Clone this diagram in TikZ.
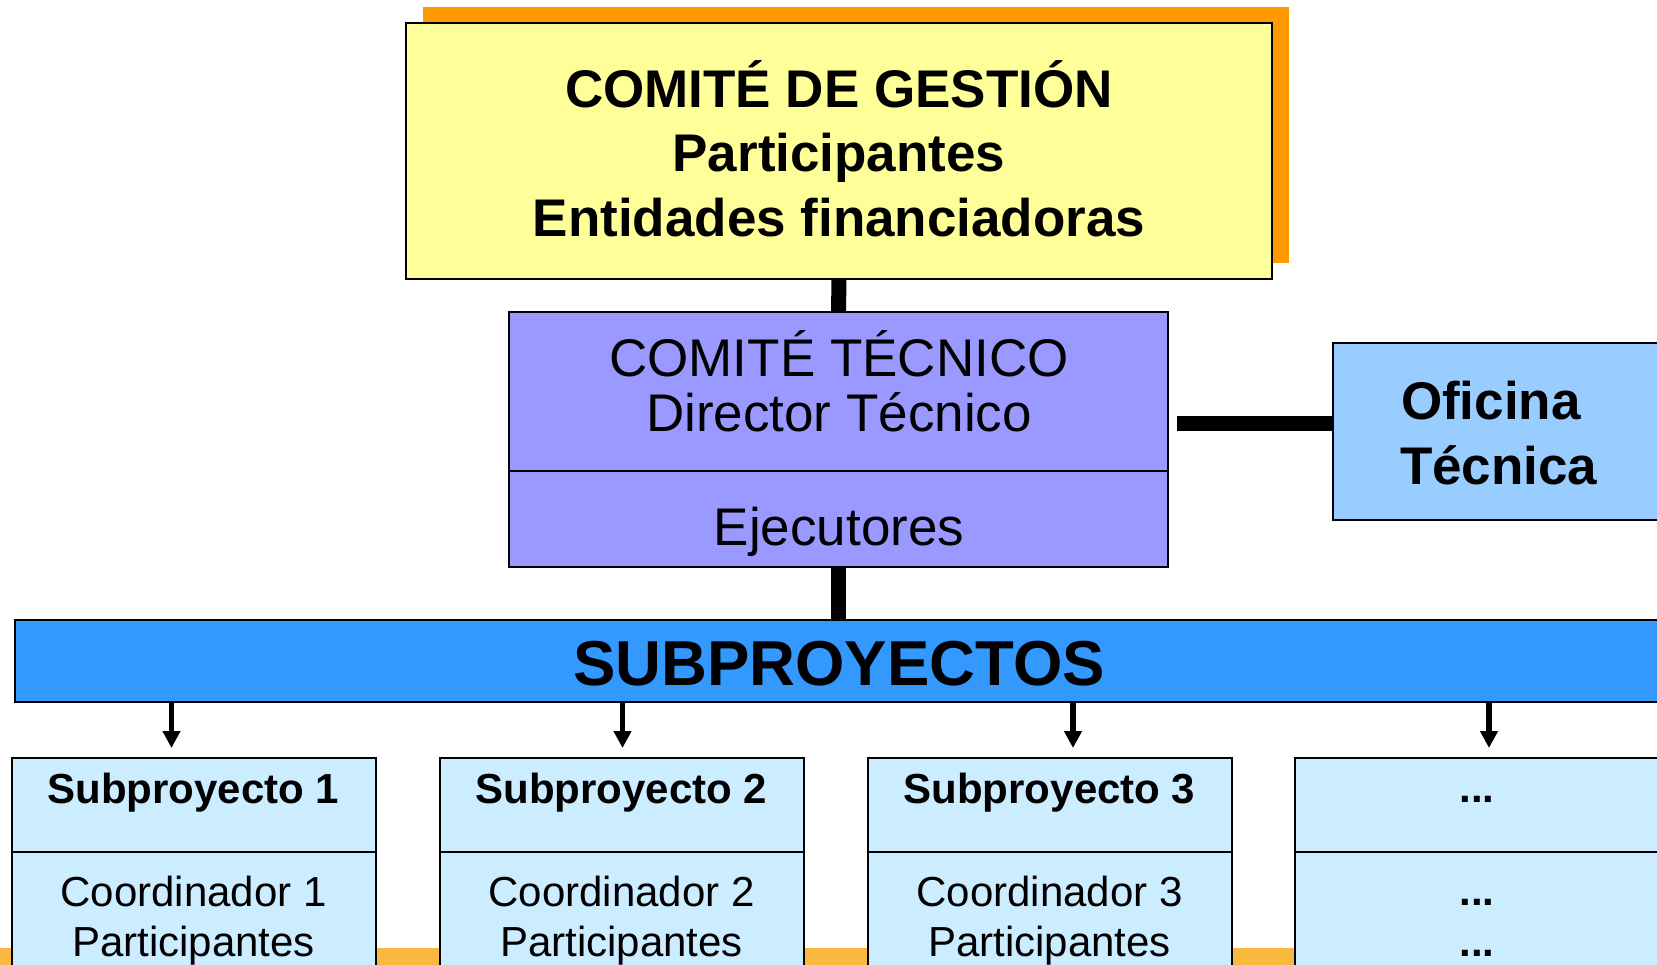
\documentclass[tikz,border=0pt]{standalone}
\usepackage{fontspec}
\setmainfont{Liberation Sans}
\usetikzlibrary{arrows.meta}
\definecolor{shadoworange}{HTML}{FF9900}
\definecolor{yellowfill}{HTML}{FFFF99}
\definecolor{purplefill}{HTML}{9999FF}
\definecolor{oficinafill}{HTML}{99CCFF}
\definecolor{barfill}{HTML}{3399FF}
\definecolor{subfill}{HTML}{CCECFF}
\definecolor{bandorange}{HTML}{F9B83F}
\begin{document}
\begin{tikzpicture}[x=1pt,y=-1pt,
  box/.style={draw=black, line width=2pt, inner sep=0pt, outer sep=0pt},
  link/.style={line width=15pt},
  arr/.style={line width=5.5pt, -{Triangle[width=17pt,length=17pt]}},
  txt/.style={anchor=base, inner sep=0pt, outer sep=0pt},
  bigb/.style={font=\bfseries\fontsize{53}{60}\selectfont},
  bigr/.style={font=\fontsize{53}{60}\selectfont},
  midb/.style={font=\bfseries\fontsize{42}{50}\selectfont},
  midr/.style={font=\fontsize{42}{50}\selectfont}]
\clip (0,0) rectangle (1657,965);
\fill[white] (0,0) rectangle (1657,965);
\fill[bandorange] (0,948) rectangle (1657,965);

% Comite de gestion
\node[fill=shadoworange, inner sep=0pt, outer sep=0pt, minimum width=866, minimum height=256] (shadow) at (856,135) {};
\node[box, fill=yellowfill, minimum width=866, minimum height=256] (gestion) at (839,151) {};
\node[txt, bigb] (g1) at (839,108) {COMITÉ DE GESTIÓN};
\node[txt, bigb] (g2) at (839,172) {Participantes};
\node[txt, bigb] (g3) at (839,237) {Entidades financiadoras};

% Comite tecnico
\node[box, fill=purplefill, minimum width=659, minimum height=159] (tecnico) at (838.5,391.5) {};
\node[box, fill=purplefill, minimum width=659, minimum height=96] (ejec) at (838.5,519) {};
\node[txt, bigr] (t1) at (839,377) {COMITÉ TÉCNICO};
\node[txt, bigr] (t2) at (839,431) {Director Técnico};
\node[txt, bigr] (t3) at (839,545) {Ejecutores};

% Oficina tecnica
\node[box, fill=oficinafill, minimum width=327, minimum height=177] (oficina) at (1496.5,431.5) {};
\node[txt, bigb, anchor=base west] (o1) at (1401,420) {Oficina};
\node[txt, bigb, anchor=base west] (o2) at (1400,484) {Técnica};

% Subproyectos bar
\node[box, fill=barfill, minimum width=1648, minimum height=81.5] (bar) at (839,661) {};
\node[txt, font=\bfseries\fontsize{63.5}{70}\selectfont] (barlabel) at (839,685) {SUBPROYECTOS};

% Connectors
\draw[link] (gestion.south) -- (tecnico.north);
\draw[link] (ejec.south) -- (ejec.south |- bar.north);
\coordinate (hstart) at (1177,423.5);
\draw[link] (hstart) -- (hstart -| oficina.west);

% Subproject boxes
\foreach \n/\cx in {1/193.5, 2/621.5, 3/1049.5}{
  \node[box, fill=subfill, minimum width=364, minimum height=94] (sa\n) at (\cx,805) {};
  \node[box, fill=subfill, minimum width=364, minimum height=148] (sb\n) at (\cx,926) {};
  \node[txt, midb] (sat\n) at (\cx,803) {Subproyecto \n};
  \node[txt, midr] (sbt\n) at (\cx,906) {Coordinador \n};
  \node[txt, midr] (sbu\n) at (\cx,956) {Participantes};
}
\node[box, fill=subfill, minimum width=364, minimum height=94] (sa4) at (1477,805) {};
\node[box, fill=subfill, minimum width=364, minimum height=148] (sb4) at (1477,926) {};
\node[txt, midb] (sat4) at (1477,802) {...};
\node[txt, midb] (sbt4) at (1477,905) {...};
\node[txt, midb] (sbu4) at (1477,956) {...};

% Arrows
\coordinate (a1) at (171.5,748);
\coordinate (a2) at (622.5,748);
\coordinate (a3) at (1073,748);
\coordinate (a4) at (1489,748);
\foreach \i in {1,2,3,4}{
  \draw[arr] (bar.south -| a\i) -- (a\i);
}
\end{tikzpicture}
\end{document}
